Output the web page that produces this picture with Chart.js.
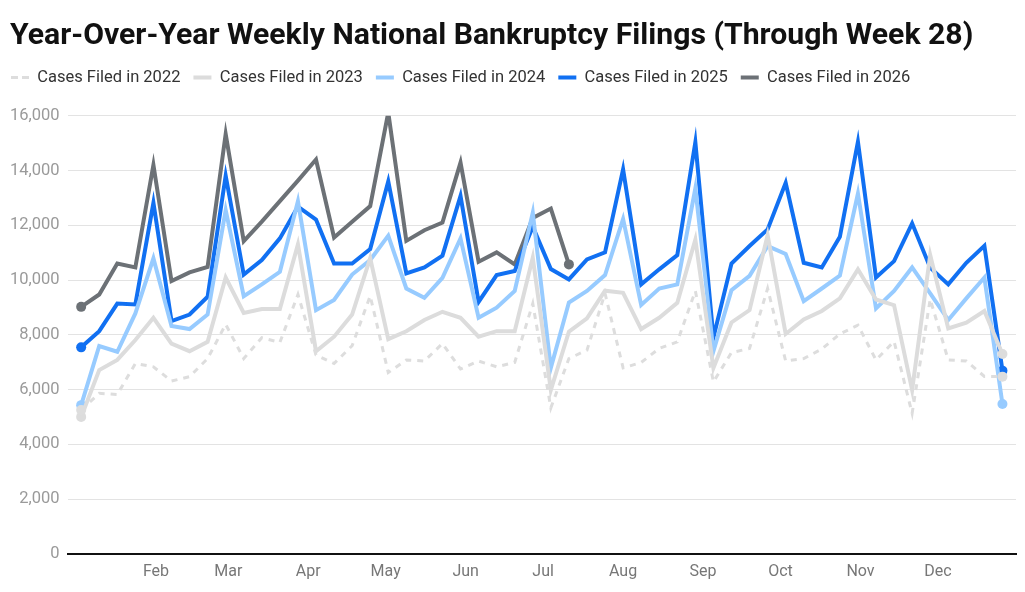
<!DOCTYPE html>
<html>
<head>
<meta charset="utf-8">
<script src="https://cdn.jsdelivr.net/npm/chart.js@4"></script>
<style>
	html, body {margin: 0; padding: 0; background: #fff;}
	#wrap {width: 1025px; height: 592px; position: relative;}
</style>
</head>
<body>
<div id="wrap"><canvas id="chart"></canvas></div>
<script>
//Weekly filings, one value per week of the year
const cases2022 = [5250, 5860, 5820, 6950, 6830, 6310, 6470, 7130, 8380, 7130, 7890, 7720, 9470, 7260, 6950, 7600, 9420, 6620, 7080, 7040, 7680, 6750, 7040, 6830, 6990, 9140, 5330, 7130, 7440, 9510, 6790, 6990, 7500, 7740, 9600, 6280, 7350, 7500, 9690, 7040, 7130, 7480, 8030, 8350, 7080, 7760, 5130, 9300, 7080, 7040, 6480, 6470];
const cases2023 = [5000, 6710, 7080, 7810, 8620, 7680, 7400, 7740, 10090, 8800, 8940, 8940, 11300, 7400, 7930, 8740, 10800, 7840, 8130, 8540, 8840, 8620, 7930, 8130, 8130, 10820, 5980, 8110, 8600, 9610, 9530, 8210, 8620, 9170, 11480, 6790, 8450, 8900, 11640, 8030, 8560, 8870, 9330, 10390, 9290, 9080, 5980, 10910, 8230, 8440, 8870, 7300];
const cases2024 = [5430, 7590, 7380, 8780, 10790, 8320, 8210, 8740, 12550, 9410, 9840, 10300, 12880, 8900, 9270, 10200, 10730, 11620, 9690, 9350, 10080, 11520, 8620, 8990, 9600, 12460, 6790, 9180, 9600, 10180, 12230, 9090, 9690, 9840, 13350, 7400, 9630, 10150, 11240, 10950, 9230, 9690, 10160, 13160, 8960, 9600, 10460, 9510, 8540, 9330, 10090, 5470];
const cases2025 = [7540, 8130, 9140, 9110, 12820, 8500, 8740, 9390, 13810, 10200, 10730, 11520, 12680, 12210, 10600, 10600, 11130, 13600, 10240, 10460, 10890, 13070, 9200, 10180, 10330, 11950, 10400, 10020, 10750, 11010, 14040, 9840, 10390, 10910, 15030, 7900, 10600, 11240, 11850, 13550, 10630, 10460, 11580, 15050, 10090, 10690, 12070, 10450, 9840, 10630, 11250, 6690];
const cases2026 = [9020, 9470, 10600, 10460, 14200, 9960, 10280, 10480, 15330, 11420, 12130, 12880, 13630, 14400, 11550, 12130, 12700, 16120, 11430, 11820, 12100, 14290, 10670, 11010, 10570, 12270, 12610, 10570];

const monthLabels = ["Feb", "Mar", "Apr", "May", "Jun", "Jul", "Aug", "Sep", "Oct", "Nov", "Dec"];
const monthStartDay = [32, 60, 91, 121, 152, 182, 213, 244, 274, 305, 335]; //day of year
const yTicks = [0, 2000, 4000, 6000, 8000, 10000, 12000, 14000, 16000];

const FONT = "Roboto, 'Liberation Sans', sans-serif";
const monthPos = monthStartDay.map(d => (d - 3) / 7); //in week units, week 0 = first plotted point

function series(label, values, color, width, dash) {
	const last = values.length - 1;
	return {
		label,
		data: values.map((y, x) => ({x, y})),
		borderColor: color, backgroundColor: color,
		borderWidth: width,
		borderDash: dash || [],
		borderJoinStyle: "miter",
		pointRadius: ctx => (ctx.dataIndex === 0 || ctx.dataIndex === last) ? 5 : 0,
		pointBorderWidth: 0,
		pointHoverRadius: 0,
		tension: 0,
	};
}

//Push the plot down a bit below the legend row, and nudge title/legend to line up with the reference
const layoutTweaks = {
	id: "layoutTweaks",
	beforeInit(chart) {
		const fit = chart.legend.fit;
		chart.legend.fit = function() {fit.call(this); this.height += 20;};
	},
	afterLayout(chart) {
		chart.titleBlock.left += 8; chart.titleBlock.right += 8;
		chart.legend.left -= 4;
	},
};

new Chart(document.getElementById("chart"), {
	type: "line",
	data: {
		datasets: [
			series("Cases Filed in 2022", cases2022, "#dddddd", 3, [6, 6]),
			series("Cases Filed in 2023", cases2023, "#dcdcdc", 4),
			series("Cases Filed in 2024", cases2024, "#97cbff", 4),
			series("Cases Filed in 2025", cases2025, "#1170f2", 4),
			series("Cases Filed in 2026", cases2026, "#6c7176", 4),
		],
	},
	plugins: [layoutTweaks],
	options: {
		responsive: true,
		maintainAspectRatio: false,
		animation: false,
		layout: {padding: {left: 2, right: 9, top: 0, bottom: 1}},
		plugins: {
			title: {
				display: true,
				align: "start",
				text: "Year-Over-Year Weekly National Bankruptcy Filings (Through Week 28)",
				color: "#111",
				font: {family: FONT, size: 30.2, weight: "bold"},
				padding: {top: 18, bottom: 2},
			},
			legend: {
				align: "start",
				labels: {
					usePointStyle: true,
					pointStyle: "line",
					pointStyleWidth: 18,
					color: "#333",
					font: {family: FONT, size: 16.5},
					padding: 13,
					//point style legend reads the point border, so give it the line's look instead
					generateLabels: chart => Chart.defaults.plugins.legend.labels.generateLabels(chart).map(item => {
						const ds = chart.data.datasets[item.datasetIndex];
						return {...item, lineWidth: ds.borderWidth, strokeStyle: ds.borderColor,
							lineDash: ds.borderDash.length ? [7, 4] : [], lineCap: "butt"};
					}),
				},
			},
			tooltip: {enabled: false},
		},
		scales: {
			x: {
				type: "linear",
				min: -0.75, max: 51.75,
				afterBuildTicks: axis => {axis.ticks = monthPos.map(value => ({value}));},
				ticks: {
					callback: (v, i) => monthLabels[i],
					color: "#777",
					font: {family: FONT, size: 16},
					padding: 9,
					maxRotation: 0,
					autoSkip: false,
				},
				grid: {display: false, drawTicks: false},
				border: {display: true, color: "#111", width: 2},
			},
			y: {
				min: 0, max: 16000,
				afterBuildTicks: axis => {axis.ticks = yTicks.map(value => ({value}));},
				ticks: {
					color: "#9a9a9a",
					font: {family: FONT, size: 16.5},
					padding: 8,
					callback: v => v.toLocaleString("en-US"),
				},
				grid: {color: "#e3e3e3", lineWidth: 1, drawTicks: false},
				border: {display: false},
			},
		},
	},
});
</script>
</body>
</html>
